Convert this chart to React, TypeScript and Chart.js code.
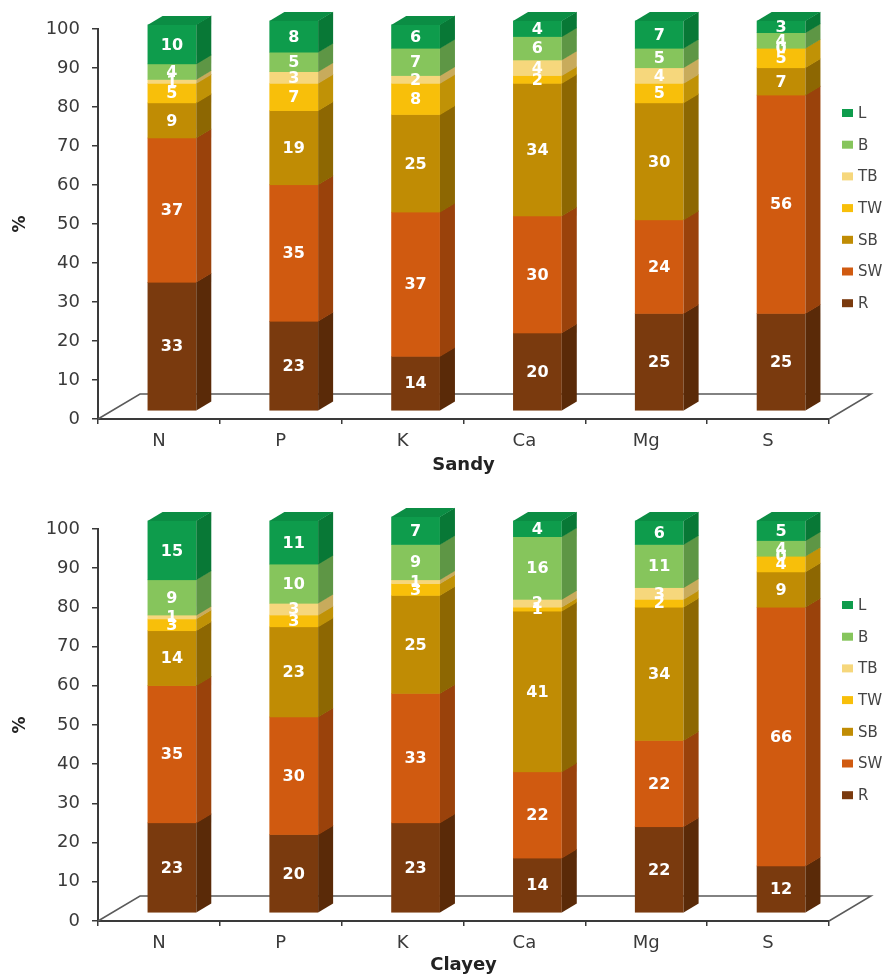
import React, { useEffect, useRef } from 'react';
import { Chart, registerables } from 'chart.js';

Chart.register(...registerables);

const categories = ['N', 'P', 'K', 'Ca', 'Mg', 'S'];
const seriesNames = ['R', 'SW', 'SB', 'TW', 'TB', 'B', 'L'];
const yTicks = [0, 10, 20, 30, 40, 50, 60, 70, 80, 90, 100];

// Sandy soil
const sandyR = [33, 23, 14, 20, 25, 25];
const sandySW = [37, 35, 37, 30, 24, 56];
const sandySB = [9, 19, 25, 34, 30, 7];
const sandyTW = [5, 7, 8, 2, 5, 5];
const sandyTB = [1, 3, 2, 4, 4, 0];
const sandyB = [4, 5, 7, 6, 5, 4];
const sandyL = [10, 8, 6, 4, 7, 3];

// Clayey soil
const clayeyR = [23, 20, 23, 14, 22, 12];
const clayeySW = [35, 30, 33, 22, 22, 66];
const clayeySB = [14, 23, 25, 41, 34, 9];
const clayeyTW = [3, 3, 3, 1, 2, 4];
const clayeyTB = [1, 3, 1, 2, 3, 0];
const clayeyB = [9, 10, 9, 16, 11, 4];
const clayeyL = [15, 11, 7, 4, 6, 5];

const frontColors = ['#7a3a0e', '#d05a10', '#c08c04', '#f8bf0a', '#f6d77c', '#86c55c', '#0e9c4c'];
const sideColors = ['#5a2a08', '#9a420b', '#8d6702', '#c09206', '#c8ab5c', '#5e9645', '#087836'];
const topFaceColor = '#0b8d44';

const OFF_X = 13;
const OFF_Y = -8;
const DEP_X = 15;
const DEP_Y = -9;
const FLOOR_X = 42;
const FLOOR_Y = -25;

const FONT = '"DejaVu Sans", Arial, sans-serif';

type Props = {
  title: string;
  series: number[][];
  canvasTop: number;
  chartBottom: number;
  legendTop: number;
};

const CANVAS_W = 896;
const CANVAS_H = 490;

function StackChart({ title, series, canvasTop, chartBottom, legendTop }: Props) {
  const ref = useRef<HTMLCanvasElement | null>(null);

  useEffect(() => {
    if (!ref.current) return;
    const xHeight = CANVAS_H - chartBottom;

    const bar3d = {
      id: 'bar3d',
      beforeDatasetsDraw(chart: any) {
        const { ctx, chartArea: a } = chart;
        ctx.save();
        ctx.strokeStyle = '#5a5a5a';
        ctx.lineWidth = 1.5;
        ctx.beginPath();
        ctx.moveTo(a.left, a.bottom);
        ctx.lineTo(a.left + FLOOR_X, a.bottom + FLOOR_Y);
        ctx.lineTo(a.right + FLOOR_X, a.bottom + FLOOR_Y);
        ctx.lineTo(a.right, a.bottom);
        ctx.stroke();
        ctx.restore();
      },
      afterDatasetsDraw(chart: any) {
        const { ctx } = chart;
        const n = chart.data.labels.length;
        const nd = chart.data.datasets.length;
        ctx.save();
        for (let i = 0; i < n; i++) {
          let topIdx = -1;
          for (let d = 0; d < nd; d++) {
            if ((chart.data.datasets[d].data[i] as number) > 0) topIdx = d;
          }
          const boxes: any[] = [];
          for (let d = 0; d < nd; d++) {
            const el = chart.getDatasetMeta(d).data[i];
            const p = el.getProps(['x', 'y', 'base', 'width'], true);
            const left = p.x - p.width / 2 + OFF_X;
            const right = p.x + p.width / 2 + OFF_X;
            const top = Math.min(p.y, p.base) + OFF_Y;
            const bot = Math.max(p.y, p.base) + OFF_Y;
            boxes.push({ left, right, top, bot, v: chart.data.datasets[d].data[i] });
            if (bot - top <= 0) continue;
            ctx.fillStyle = frontColors[d];
            ctx.fillRect(left, top - 0.3, right - left, bot - top + 0.6);
            ctx.fillStyle = sideColors[d];
            ctx.beginPath();
            ctx.moveTo(right, top - 0.3);
            ctx.lineTo(right + DEP_X, top + DEP_Y - 0.3);
            ctx.lineTo(right + DEP_X, bot + DEP_Y + 0.3);
            ctx.lineTo(right, bot + 0.3);
            ctx.closePath();
            ctx.fill();
          }
          if (topIdx >= 0) {
            const b = boxes[topIdx];
            ctx.fillStyle = topFaceColor;
            ctx.beginPath();
            ctx.moveTo(b.left, b.top);
            ctx.lineTo(b.left + DEP_X, b.top + DEP_Y);
            ctx.lineTo(b.right + DEP_X, b.top + DEP_Y);
            ctx.lineTo(b.right, b.top);
            ctx.closePath();
            ctx.fill();
          }
          ctx.fillStyle = '#ffffff';
          ctx.font = 'bold 16px ' + FONT;
          ctx.textAlign = 'center';
          ctx.textBaseline = 'middle';
          for (const b of boxes) {
            ctx.fillText(String(b.v), (b.left + b.right) / 2, (b.top + b.bot) / 2 + 1);
          }
        }
        ctx.restore();
      },
      afterDraw(chart: any) {
        const { ctx } = chart;
        ctx.save();
        ctx.font = '15px ' + FONT;
        ctx.textAlign = 'left';
        ctx.textBaseline = 'middle';
        const nd = chart.data.datasets.length;
        for (let k = 0; k < nd; k++) {
          const d = nd - 1 - k;
          const y = legendTop + k * 31.7;
          ctx.fillStyle = frontColors[d];
          ctx.fillRect(842, y - 4, 11, 8);
          ctx.fillStyle = '#444444';
          ctx.fillText(chart.data.datasets[d].label, 858, y + 1);
        }
        ctx.restore();
      },
    };

    const chart = new Chart(ref.current, {
      type: 'bar',
      data: {
        labels: categories,
        datasets: seriesNames.map((name, d) => ({
          label: name,
          data: series[d],
          backgroundColor: 'rgba(0,0,0,0)',
          borderWidth: 0,
          barPercentage: 0.4,
          categoryPercentage: 1,
        })),
      },
      options: {
        responsive: false,
        animation: false,
        devicePixelRatio: 1,
        layout: { padding: { top: 29, right: 67, left: 0, bottom: 0 } },
        plugins: {
          legend: { display: false },
          tooltip: { enabled: false },
        },
        scales: {
          x: {
            stacked: true,
            afterFit: (s: any) => {
              s.height = xHeight;
            },
            grid: {
              display: true,
              drawOnChartArea: false,
              drawTicks: true,
              tickLength: 5,
              color: '#3a3a3a',
              lineWidth: 1.5,
              offset: true,
            },
            border: { display: true, color: '#3a3a3a', width: 2 },
            ticks: {
              color: '#3a3a3a',
              font: { family: FONT, size: 18 },
              padding: 7,
            },
            title: {
              display: true,
              text: title,
              color: '#222222',
              font: { family: FONT, size: 18, weight: 'bold' },
              padding: { top: 0, bottom: 14 },
            },
          },
          y: {
            stacked: true,
            min: 0,
            max: 100,
            afterFit: (s: any) => {
              s.width = 98;
            },
            afterBuildTicks: (s: any) => {
              s.ticks = yTicks.map((v) => ({ value: v }));
            },
            grid: {
              display: true,
              drawOnChartArea: false,
              drawTicks: true,
              tickLength: 6,
              color: '#3a3a3a',
              lineWidth: 1.5,
            },
            border: { display: true, color: '#3a3a3a', width: 2 },
            ticks: {
              color: '#3a3a3a',
              font: { family: FONT, size: 18 },
              padding: 12,
            },
            title: {
              display: true,
              text: '%',
              color: '#222222',
              font: { family: FONT, size: 17, weight: 'bold' },
              padding: { top: 10, bottom: 0 },
            },
          },
        },
      },
      plugins: [bar3d],
    } as any);

    return () => chart.destroy();
  }, [title, series, chartBottom, legendTop]);

  return (
    <canvas
      ref={ref}
      width={CANVAS_W}
      height={CANVAS_H}
      style={{ position: 'absolute', left: 0, top: canvasTop, width: CANVAS_W, height: CANVAS_H }}
    />
  );
}

const sandySeries = [sandyR, sandySW, sandySB, sandyTW, sandyTB, sandyB, sandyL];
const clayeySeries = [clayeyR, clayeySW, clayeySB, clayeyTW, clayeyTB, clayeyB, clayeyL];

export default function App() {
  return (
    <div
      style={{
        position: 'absolute',
        left: 0,
        top: 0,
        width: 896,
        height: 979,
        overflow: 'hidden',
        background: '#ffffff',
      }}
    >
      <StackChart title="Sandy" series={sandySeries} canvasTop={0} chartBottom={419} legendTop={113} />
      <StackChart title="Clayey" series={clayeySeries} canvasTop={500} chartBottom={421} legendTop={105} />
    </div>
  );
}
